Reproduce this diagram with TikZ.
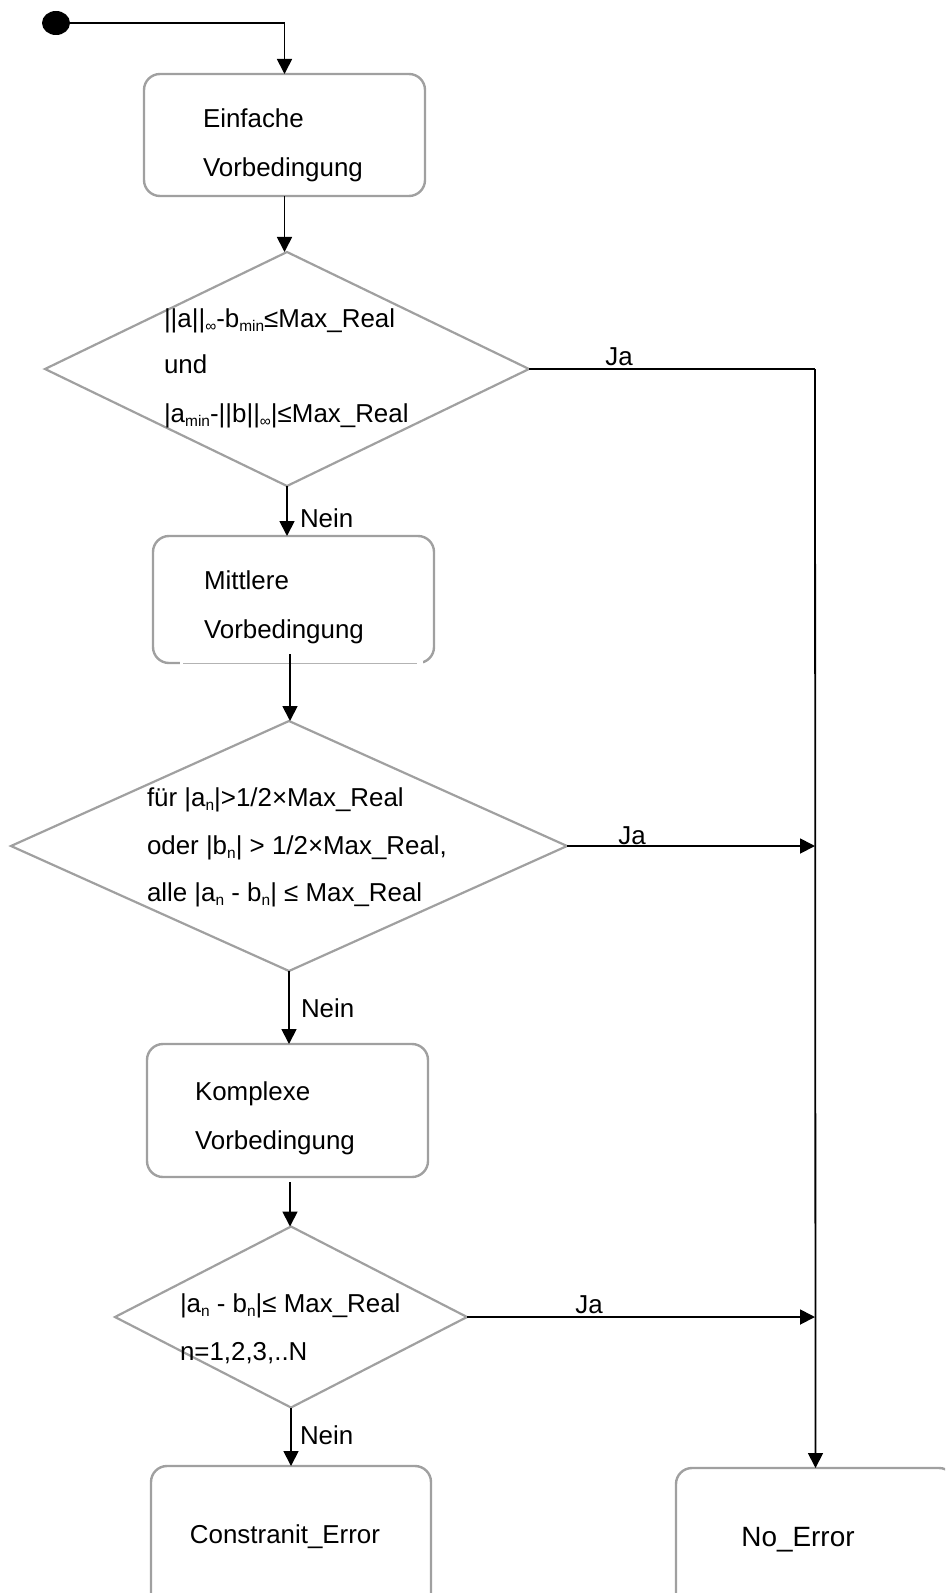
\documentclass[tikz,border=0pt]{standalone}
\usepackage{fontspec}
\setmainfont{Liberation Sans}
\usetikzlibrary{arrows.meta,shapes.geometric}
\definecolor{boxgray}{RGB}{160,160,160}
\newcommand\lsub[1]{\raisebox{-0.3ex}{\fontsize{15.5}{15.5}\selectfont #1}}
\tikzset{
  stbox/.style={draw=boxgray, line width=2.4bp, rounded corners=16bp, inner sep=0pt, outer sep=0pt},
  dia/.style={draw=boxgray, line width=2.2bp, shape=diamond, inner sep=0pt, outer sep=0pt},
  conn/.style={draw=black, line width=1.8bp},
  arr/.style={conn, -{Triangle[length=15bp,width=15bp]}},
  txt/.style={font=\fontsize{26}{31}\selectfont, inner sep=0pt, outer sep=0pt, anchor=base west},
  lab/.style={font=\fontsize{26}{31}\selectfont, inner sep=0pt, outer sep=0pt, anchor=base},
}
\begin{document}
\begin{tikzpicture}[x=1bp,y=-1bp]
\useasboundingbox (0,0) rectangle (945,1593);
\clip (0,0) rectangle (945,1593);

% start
\node (dot) [ellipse, fill=black, minimum width=28bp, minimum height=24bp, inner sep=0pt] at (56,23) {};

% shapes
\node (b1) [stbox, minimum width=281bp, minimum height=122bp] at (284.5,135) {};
\node (d1) [dia, minimum width=484bp, minimum height=234bp] at (287,369) {};
\node (b2) [stbox, minimum width=281bp, minimum height=127bp] at (293.5,599.5) {};
\node (d2) [dia, minimum width=556bp, minimum height=250bp] at (289,846) {};
\node (b3) [stbox, minimum width=281bp, minimum height=133bp] at (287.5,1110.5) {};
\node (d3) [dia, minimum width=352bp, minimum height=181bp] at (291,1317) {};
\node (b4) [stbox, minimum width=280bp, minimum height=154bp] at (291,1543) {};
\node (b5) [stbox, minimum width=279bp, minimum height=152bp] at (815.5,1544) {};

% broken bottom edge of b2
\draw[white, line width=3.6bp] (180,663) -- (423,663);
\draw[boxgray!80, line width=1bp] (183,663) -- (417,663);

% texts
\node (t1a) [txt] at (203,128) {Einfache};
\node (t1b) [txt] at (203,176) {Vorbedingung};
\node (t2a) [txt] at (164,327) {||a||\lsub{∞}-b\lsub{min}≤Max\_Real};
\node (t2b) [txt] at (164,373) {und};
\node (t2c) [txt] at (164,422) {|a\lsub{min}-||b||\lsub{∞}|≤Max\_Real};
\node (t3a) [txt] at (204,589) {Mittlere};
\node (t3b) [txt] at (204,638) {Vorbedingung};
\node (t4a) [txt] at (147,806) {für |a\lsub{n}|>1/2×Max\_Real};
\node (t4b) [txt] at (147,854) {oder |b\lsub{n}| > 1/2×Max\_Real,};
\node (t4c) [txt] at (147,901) {alle |a\lsub{n} - b\lsub{n}| ≤ Max\_Real};
\node (t5a) [txt] at (195,1100) {Komplexe};
\node (t5b) [txt] at (195,1149) {Vorbedingung};
\node (t6a) [txt] at (180,1312) {|a\lsub{n} - b\lsub{n}|≤ Max\_Real};
\node (t6b) [txt] at (180,1360) {n=1,2,3,..N};
\node (t7) [lab] at (285,1543) {Constranit\_Error};
\node (t8) [lab, font=\fontsize{28}{33}\selectfont] at (798,1546) {No\_Error};

% coordinates for connectors
\coordinate (c0) at (284.5,23);
\coordinate (j1) at (815,369);
\coordinate (j2) at (815,846);
\coordinate (j3) at (815,1317);
\coordinate (b2out) at (290,654);
\coordinate (b3out) at (290,1182);

% connectors
\draw[conn] (dot.east) -- (c0);
\draw[arr] (c0) -- (b1.north);
\draw[arr] (b1.south) -- (b1.south |- d1.north);
\draw[conn] (d1.east) -- (j1);
\draw[arr] (j1) -- (b5.north);
\draw[arr] (d1.south) -- (d1.south |- b2.north);
\draw[arr] (b2out) -- (b2out |- d2.north);
\draw[arr] (d2.east) -- (j2);
\draw[arr] (d2.south) -- (d2.south |- b3.north);
\draw[arr] (b3out) -- (b3out |- d3.north);
\draw[arr] (d3.east) -- (j3);
\draw[arr] (d3.south) -- (d3.south |- b4.north);

% labels
\node (ja1) [lab] at (619,365) {Ja};
\node (ja2) [lab] at (632,844) {Ja};
\node (ja3) [lab] at (589,1313) {Ja};
\node (ne1) [txt] at (300,527) {Nein};
\node (ne2) [txt] at (301,1017) {Nein};
\node (ne3) [txt] at (300,1444) {Nein};
\end{tikzpicture}
\end{document}
